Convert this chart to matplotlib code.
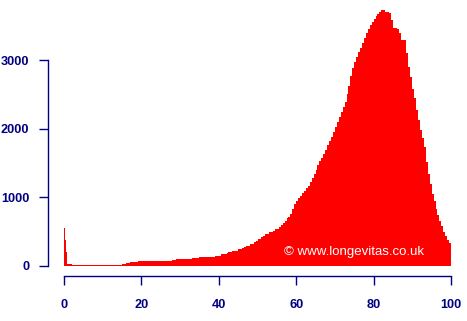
import matplotlib
matplotlib.use("Agg")
import matplotlib.pyplot as plt
import numpy as np

# Age bin edges: quarter years in first year, whole years to 40, half years to 100
bin_edges = [0, 0.25, 0.5, 0.75, 1] + list(range(2, 41)) + list(np.arange(40.5, 100.01, 0.5))

deaths_infant = [560, 380, 210, 35]
deaths_1_39 = [30,                                   # 1
               15, 15, 15, 15, 15, 15, 15, 15, 15, 15, 15, 15, 15,  # 2-14
               30, 45, 60, 65,                       # 15-18
               78, 78, 78, 78, 78, 78, 78, 78, 78,   # 19-27
               85, 95, 95, 102, 105, 121, 121, 125, 136, 136, 136, 145]  # 28-39
deaths_40_100 = [150, 170, 175, 180, 194, 198, 209, 212, 223, 225,      # 40-44.5
                 248, 252, 267, 270, 291, 293, 320, 325, 354, 358,      # 45-49.5
                 389, 395, 427, 430, 461, 465, 500, 500, 505, 539,      # 50-54.5
                 545, 570, 597, 630, 660, 694, 710, 760, 830, 900,      # 55-59.5
                 950, 990, 1020, 1058, 1090, 1130, 1165, 1220, 1280, 1340,  # 60-64.5
                 1400, 1465, 1525, 1580, 1635, 1690, 1755, 1820, 1885, 1955,  # 65-69.5
                 2025, 2095, 2165, 2240, 2310, 2390, 2500, 2620, 2760, 2880,  # 70-74.5
                 2970, 3040, 3110, 3180, 3250, 3320, 3390, 3450, 3510, 3555,  # 75-79.5
                 3600, 3640, 3675, 3705, 3728, 3728, 3705, 3700, 3690, 3582,  # 80-84.5
                 3461, 3461, 3455, 3390, 3291, 3291, 3290, 3100, 2900, 2750,  # 85-89.5
                 2580, 2440, 2270, 2130, 1980, 1860, 1730, 1520, 1340, 1190,  # 90-94.5
                 1050, 940, 830, 740, 660, 580, 500, 440, 385, 330]           # 95-99.5
deaths = deaths_infant + deaths_1_39 + deaths_40_100

x_ticks = [0, 20, 40, 60, 80, 100]
y_ticks = [0, 1000, 2000, 3000]
watermark = "\u00a9 www.longevitas.co.uk"

navy = "#000080"
W, H = 467, 321
fig = plt.figure(figsize=(W / 100, H / 100), dpi=100)
ax = fig.add_axes([64 / W, (H - 266) / H, 387 / W, (266 - 5.07) / H])
ax.stairs(deaths, bin_edges, fill=True, color="#FF0000", linewidth=0)
ax.set_xlim(0, 100)
ax.set_ylim(0, 3800)

for s in ["top", "right"]:
    ax.spines[s].set_visible(False)
ax.spines["bottom"].set_position(("outward", 7.2))
ax.spines["left"].set_position(("outward", 11.5))
ax.spines["bottom"].set_bounds(0, 100)
ax.spines["left"].set_bounds(0, 3000)
for s in ["bottom", "left"]:
    ax.spines[s].set_color(navy)
    ax.spines[s].set_linewidth(1.0)

ax.set_xticks(x_ticks)
ax.set_yticks(y_ticks)
ax.set_xticklabels([str(t) for t in x_ticks])
ax.set_yticklabels([str(t) for t in y_ticks])
ax.tick_params(axis="both", colors=navy, length=6.5, width=1.0, direction="out")
ax.tick_params(axis="x", pad=10)
ax.tick_params(axis="y", pad=7)
for lab in ax.get_xticklabels() + ax.get_yticklabels():
    lab.set_fontfamily("Liberation Sans")
    lab.set_fontweight("bold")
    lab.set_fontsize(9.2)
    lab.set_color(navy)

ax.text(56.85, 204, watermark, color="white", fontsize=9.5,
        family="Liberation Sans", ha="left", va="center")

fig.savefig("out.png", dpi=100)
